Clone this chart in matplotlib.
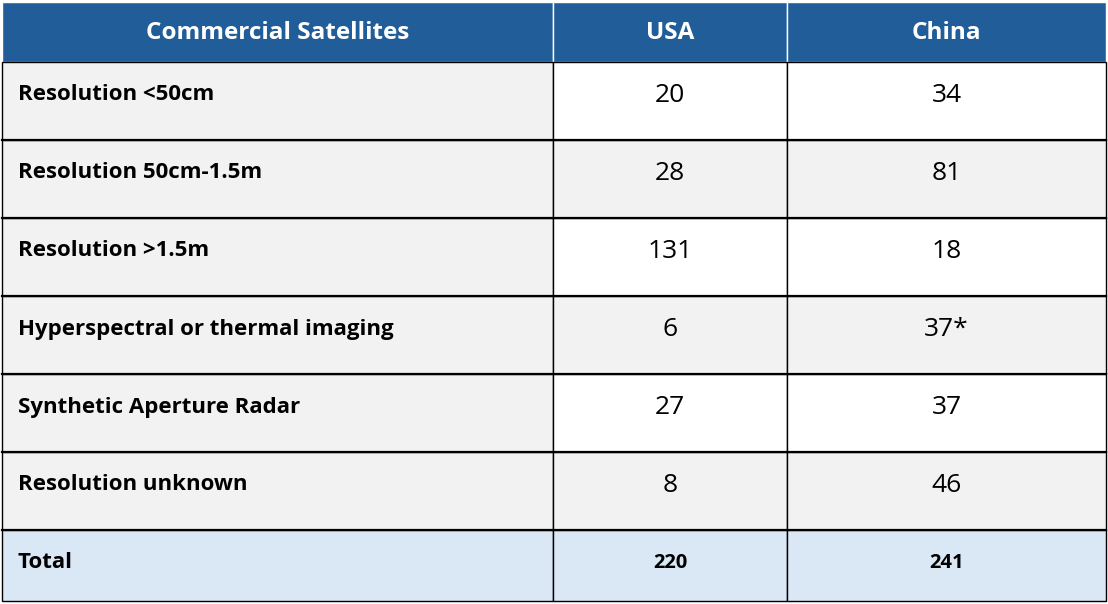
import matplotlib.pyplot as plt
from matplotlib.patches import Rectangle

headers = ["Commercial Satellites", "USA", "China"]
categories = ["Resolution <50cm", "Resolution 50cm-1.5m", "Resolution >1.5m",
              "Hyperspectral or thermal imaging", "Synthetic Aperture Radar",
              "Resolution unknown"]
usa = ["20", "28", "131", "6", "27", "8"]
china = ["34", "81", "18", "37*", "37", "46"]
total = ["Total", "220", "241"]

col_edges = [2, 553, 787, 1106]
row_edges = [2, 62, 140, 218, 296, 374, 452, 530, 601]

BLUE = "#215E99"
GRAY = "#F2F2F2"
TOTAL_BG = "#DAE8F6"
FONT = "Open Sans"

fig = plt.figure(figsize=(11.08, 6.04), dpi=100)
ax = fig.add_axes([0, 0, 1, 1])
ax.set_xlim(0, 1108)
ax.set_ylim(604, 0)
ax.axis("off")

rows = [headers] + [[c, u, h] for c, u, h in zip(categories, usa, china)] + [total]
n = len(rows)
for r, row in enumerate(rows):
    y0, y1 = row_edges[r], row_edges[r + 1]
    for c, txt in enumerate(row):
        x0, x1 = col_edges[c], col_edges[c + 1]
        if r == 0:
            fc = BLUE
        elif r == n - 1:
            fc = TOTAL_BG
        elif c == 0 or r % 2 == 0:
            fc = GRAY
        else:
            fc = "white"
        ax.add_patch(Rectangle((x0, y0), x1 - x0, y1 - y0, facecolor=fc,
                               edgecolor="black" if r > 0 else "white", lw=1.0))
        ym = (y0 + y1) / 2
        if r == 0:
            ax.text((x0 + x1) / 2, ym + 1, txt, color="white", fontsize=17.5,
                    fontweight="bold", family=FONT, ha="center", va="center")
        elif c == 0:
            ax.text(x0 + 16, ym - (3 if r == n - 1 else 6), txt, color="black",
                    fontsize=16, fontweight="bold", family=FONT,
                    ha="left", va="center")
        elif r == n - 1:
            ax.text((x0 + x1) / 2, ym - 3, txt, color="black", fontsize=14.5,
                    fontweight="bold", family=FONT, ha="center", va="center")
        else:
            ax.text((x0 + x1) / 2, ym - 5, txt, color="black", fontsize=19,
                    family=FONT, ha="center", va="center")

# thicker horizontal separators between body rows
for y in row_edges[2:-1]:
    ax.plot([col_edges[0], col_edges[-1]], [y, y], color="black", lw=1.6)

fig.savefig("out.png", dpi=100)
